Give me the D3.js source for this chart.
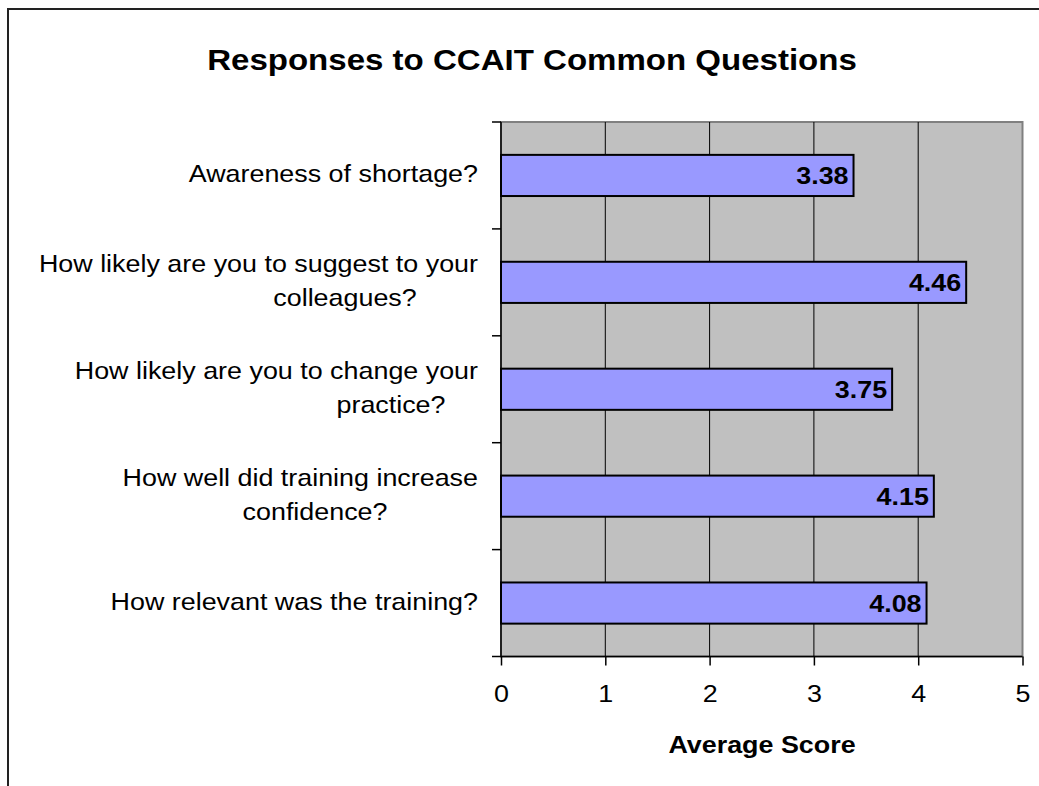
<!DOCTYPE html>
<html>
<head>
<meta charset="utf-8">
<script src="https://cdn.jsdelivr.net/npm/d3@7"></script>
<style>
  body { margin: 0; background: #fff; }
  text { font-family: "Liberation Sans", Arial, sans-serif; }
</style>
</head>
<body>
<svg id="chart" width="1039" height="786"></svg>
<script>
// data (top to bottom)
var categories = [
	["Awareness of shortage?"],
	["How likely are you to suggest to your", "colleagues?"],
	["How likely are you to change your", "practice?"],
	["How well did training increase", "confidence?"],
	["How relevant was the training?"]
];
var scores = [3.38, 4.46, 3.75, 4.15, 4.08];
var xTicks = [0, 1, 2, 3, 4, 5];
var chartTitle = "Responses to CCAIT Common Questions";
var xTitle = "Average Score";

var svg = d3.select("#chart");
var plot = { left: 501, right: 1022.5, top: 122, bottom: 656.5 };
var labelRight = 478;
var secondLineCentre = [null, 345, 391, 315, null]; // wrapped lines sit off the right edge
var stretch = 1.12; // reference text is a little wider than its height

// outer chart frame (only top/left visible in the window)
svg.append("rect")
	.attr("x", 8).attr("y", 9).attr("width", 1100).attr("height", 900)
	.style("fill", "none").style("stroke", "#222").style("stroke-width", 2);

var x = d3.scaleLinear().domain([0, 5]).range([plot.left, plot.right]);
var y = d3.scaleBand().domain(d3.range(categories.length))
	.range([plot.top, plot.bottom]).paddingInner(0.615).paddingOuter(0.3075);
var yStep = y.step();

// plot background
svg.append("rect")
	.attr("x", plot.left).attr("y", plot.top)
	.attr("width", plot.right - plot.left).attr("height", plot.bottom - plot.top)
	.style("fill", "#c0c0c0").style("stroke", "#808080").style("stroke-width", 2);

// vertical gridlines
svg.append("g").selectAll("line").data(xTicks.slice(1, -1)).enter()
	.append("line")
	.attr("x1", function (d) { return x(d); }).attr("x2", function (d) { return x(d); })
	.attr("y1", plot.top).attr("y2", plot.bottom)
	.style("stroke", "#000").style("stroke-width", 1);

// bars
svg.append("g").selectAll("rect").data(scores).enter()
	.append("rect")
	.attr("x", x(0))
	.attr("y", function (d, i) { return y(i); })
	.attr("width", function (d) { return x(d) - x(0); })
	.attr("height", y.bandwidth())
	.style("fill", "#9999ff").style("stroke", "#000").style("stroke-width", 2);

// value labels
svg.append("g").selectAll("text").data(scores).enter()
	.append("text")
	.attr("text-anchor", "end")
	.attr("transform", function (d, i) {
		return "translate(" + (x(d) - 5) + "," + (y(i) + y.bandwidth() / 2 + 9) + ") scale(" + stretch + ",1)";
	})
	.style("font-size", "24px").style("font-weight", "bold")
	.text(function (d) { return d.toFixed(2); });

// x axis
var xAxis = d3.axisBottom(x).tickValues(xTicks).tickSize(9).tickPadding(19).tickFormat(d3.format("d"));
var gx = svg.append("g").attr("transform", "translate(0," + plot.bottom + ")").call(xAxis);
gx.select(".domain").attr("d", "M" + (plot.left - 9) + ",0H" + plot.right).style("stroke-width", 1.5);
gx.selectAll(".tick line").style("stroke-width", 1.5);
gx.selectAll("text").style("font-size", "24px").style("font-family", "Liberation Sans, Arial, sans-serif")
	.style("fill", "#000").attr("transform", "scale(" + stretch + ",1)");

// y axis line and boundary ticks
svg.append("line")
	.attr("x1", plot.left).attr("x2", plot.left).attr("y1", plot.top).attr("y2", plot.bottom)
	.style("stroke", "#000").style("stroke-width", 1.5);
svg.append("g").selectAll("line").data(d3.range(categories.length)).enter()
	.append("line")
	.attr("x1", plot.left - 9).attr("x2", plot.left)
	.attr("y1", function (d) { return plot.top + d * yStep; })
	.attr("y2", function (d) { return plot.top + d * yStep; })
	.style("stroke", "#000").style("stroke-width", 1.5);

// category labels, one text per line
var lineH = 34;
var catLines = [];
categories.forEach(function (lines, i) {
	var cy = y(i) + y.bandwidth() / 2;
	lines.forEach(function (s, j) {
		var second = j > 0 && secondLineCentre[i] !== null;
		catLines.push({
			text: s,
			x: second ? secondLineCentre[i] : labelRight,
			anchor: second ? "middle" : "end",
			y: cy + 7 + (j - (lines.length - 1) / 2) * lineH
		});
	});
});
svg.append("g").selectAll("text").data(catLines).enter()
	.append("text")
	.attr("text-anchor", function (d) { return d.anchor; })
	.attr("transform", function (d) { return "translate(" + d.x + "," + d.y + ") scale(" + stretch + ",1)"; })
	.style("font-size", "24px")
	.text(function (d) { return d.text; });

// titles
svg.append("text")
	.attr("transform", "translate(532,70) scale(" + stretch + ",1)")
	.attr("text-anchor", "middle")
	.style("font-size", "29.5px").style("font-weight", "bold")
	.text(chartTitle);
svg.append("text")
	.attr("transform", "translate(762,753) scale(" + stretch + ",1)")
	.attr("text-anchor", "middle")
	.style("font-size", "24px").style("font-weight", "bold")
	.text(xTitle);
</script>
</body>
</html>
